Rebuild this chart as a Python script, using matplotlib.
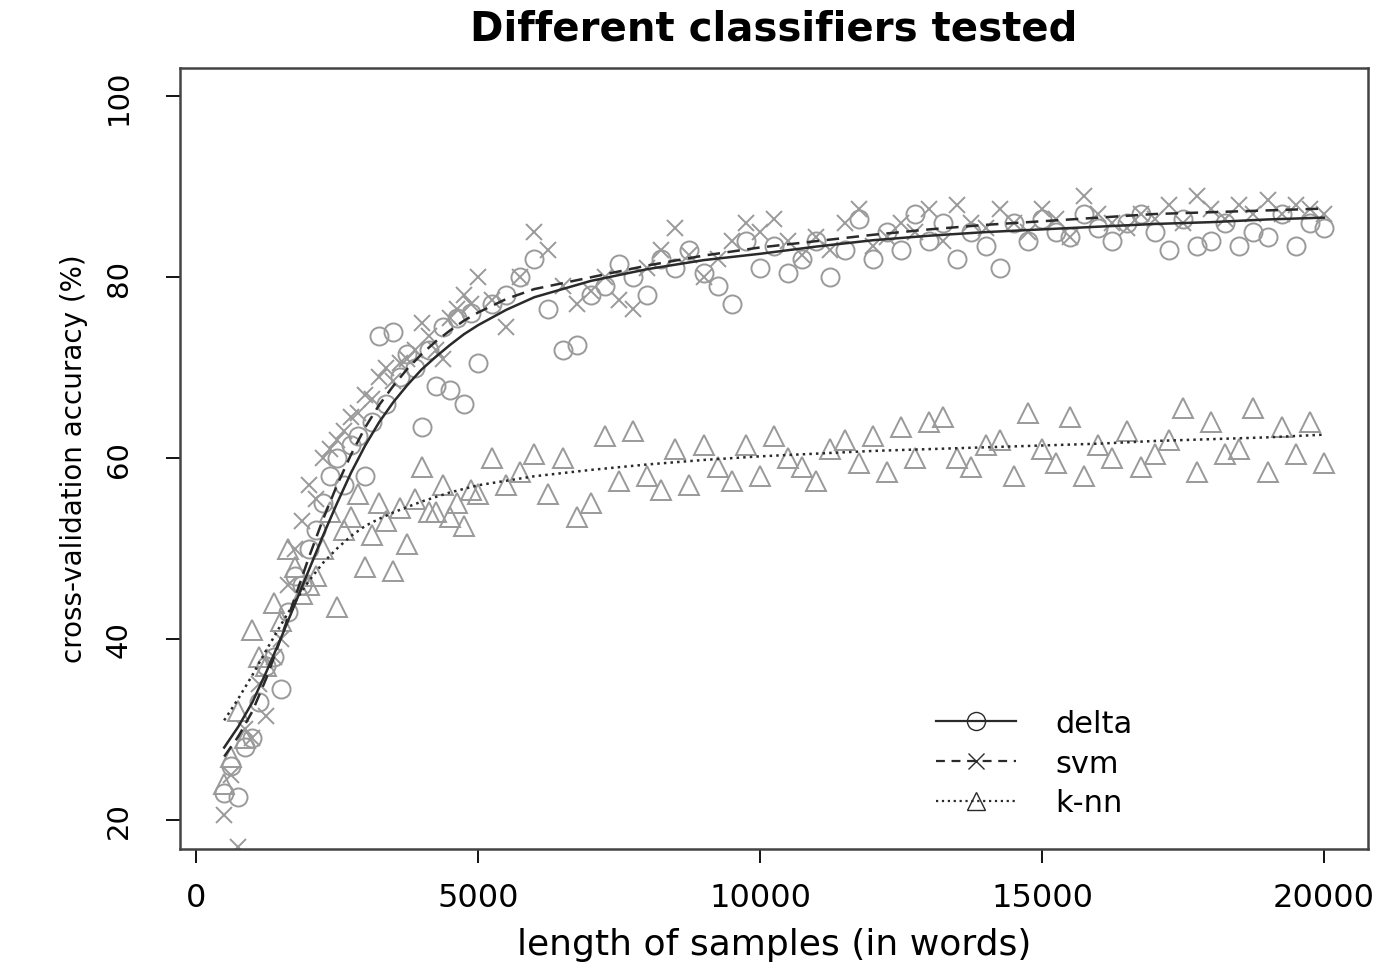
import matplotlib
matplotlib.use('Agg')
import matplotlib.pyplot as plt
from matplotlib.lines import Line2D

plt.rcParams['font.family'] = 'DejaVu Sans'

# sample lengths (in words)
lengths = list(range(500, 20001, 250))
# extra runs in the steep part of the curve
lengths_early = list(range(625, 5000, 250))

delta_acc = [23, 22.5, 29, 37, 34.5, 47, 50, 55, 60, 61.5, 58, 73.5, 74, 71.5, 63.5, 68,
             67.5, 66, 70.5, 77, 78, 80, 82, 76.5, 72, 72.5, 78, 79, 81.5, 80, 78, 82,
             81, 83, 80.5, 79, 77, 84, 81, 83.5, 80.5, 82, 84, 80, 83, 86.5, 82, 85,
             83, 87, 84, 86, 82, 85, 83.5, 81, 86, 84, 86.5, 85, 84.5, 87, 85.5, 84,
             86, 87, 85, 83, 86.5, 83.5, 84, 86, 83.5, 85, 84.5, 87, 83.5, 86, 85.5]
delta_early = [26, 28, 33, 38, 43, 46, 52, 58, 57, 62.5, 64, 66, 69, 70, 72, 74.5, 75.5, 76]

svm_acc = [20.5, 17, 29, 31.5, 40, 50, 57, 60, 62, 64.5, 67, 69, 68.5, 71, 75, 72,
           75.5, 78, 80, 77.5, 74.5, 80, 85, 83, 79, 77, 78.5, 80, 77.5, 76.5, 81, 83,
           85.5, 82.5, 80, 82, 84, 86, 85, 86.5, 84, 82.5, 84.5, 83, 86, 87.5, 83.5, 84.5,
           86, 85, 87.5, 84, 88, 86, 85.5, 87.5, 86, 85, 87.5, 86.5, 84.5, 89, 87, 86,
           85.5, 87, 86.5, 88, 86, 89, 87.5, 86.5, 88, 87, 88.5, 87, 88, 87.5, 87]
svm_early = [25, 30, 35, 38, 46, 53, 55.5, 61, 63, 65, 66.5, 70, 70.5, 72, 73.5, 71, 76.5, 77]

knn_acc = [24, 32, 41, 37, 42, 48, 46, 50, 43.5, 53.5, 48, 55, 47.5, 50.5, 59, 54,
           53.5, 52.5, 56, 60, 57, 58.5, 60.5, 56, 60, 53.5, 55, 62.5, 57.5, 63, 58, 56.5,
           61, 57, 61.5, 59, 57.5, 61.5, 58, 62.5, 60, 59, 57.5, 61, 62, 59.5, 62.5, 58.5,
           63.5, 60, 64, 64.5, 60, 59, 61.5, 62, 58, 65, 61, 59.5, 64.5, 58, 61.5, 60,
           63, 59, 60.5, 62, 65.5, 58.5, 64, 60.5, 61, 65.5, 58.5, 63.5, 60.5, 64, 59.5]
knn_early = [27, 29, 38, 44, 50, 45, 47, 54, 52, 56, 51.5, 53, 54.5, 55.5, 54, 57, 55, 56.5]

# smoothed curves
fit_x = [500, 750, 1000, 1250, 1500, 1750, 2000, 2250, 2500, 2750, 3000, 3250, 3500,
         3750, 4000, 4250, 4500, 4750, 5000, 5500, 6000, 7000, 8000, 9000, 10000,
         11000, 12000, 13000, 14000, 15000, 16000, 17000, 18000, 19000, 20000]
delta_fit = [28, 30.3, 33, 36.4, 40, 43.8, 47.6, 51.4, 55, 58.4, 61.4, 64, 66.2,
             68.1, 69.8, 71.2, 72.5, 73.7, 74.7, 76.4, 77.8, 79.6, 80.9, 81.9, 82.6,
             83.4, 84.1, 84.6, 85, 85.3, 85.6, 85.9, 86.1, 86.4, 86.6]
svm_fit = [27, 29.2, 32, 35.7, 40, 44.5, 49, 53.2, 57, 60.4, 63.4, 65.9, 68,
           69.9, 71.5, 72.9, 74.1, 75.2, 76.1, 77.6, 78.7, 80, 81.3, 82.4, 83.3,
           84, 84.7, 85.3, 85.8, 86.2, 86.6, 87, 87.2, 87.4, 87.6]
knn_fit = [31, 33.4, 36, 38.8, 41.5, 44.1, 46.4, 48.4, 50, 51.4, 52.5, 53.3, 54,
           54.6, 55.2, 55.7, 56.2, 56.6, 57, 57.5, 58, 58.7, 59.3, 59.8, 60.2,
           60.5, 60.8, 61, 61.2, 61.4, 61.6, 61.9, 62.1, 62.3, 62.6]

grey = '#9a9a9a'
dark = '#2a2a2a'

fig = plt.figure(figsize=(13.86, 9.79), dpi=100)
ax = fig.add_axes([0.130, 0.132, 0.857, 0.798])

ax.plot(lengths + lengths_early, delta_acc + delta_early, 'o', ms=13, mfc='none', mec=grey, mew=1.4)
ax.plot(lengths + lengths_early, svm_acc + svm_early, 'x', ms=12, mec=grey, mew=1.4)
ax.plot(lengths + lengths_early, knn_acc + knn_early, '^', ms=14, mfc='none', mec=grey, mew=1.4)

ax.plot(fit_x, delta_fit, '-', color=dark, lw=1.8)
ax.plot(fit_x, svm_fit, '--', color=dark, lw=1.8, dashes=(5, 3))
ax.plot(fit_x, knn_fit, ':', color=dark, lw=1.8)

ax.set_xlim(-280, 20780)
ax.set_ylim(16.8, 103.2)
ax.set_xticks([0, 5000, 10000, 15000, 20000])
ax.set_yticks([20, 40, 60, 80, 100])
ax.tick_params(axis='x', length=10, width=1.3, labelsize=23, pad=14)
ax.tick_params(axis='y', length=10, width=1.3, labelsize=21, pad=24)
for lab in ax.get_yticklabels():
    lab.set_rotation(90)
    lab.set_va('center')
for s in ax.spines.values():
    s.set_linewidth(1.8)
    s.set_color('#444444')

ax.set_title('Different classifiers tested', fontsize=29, fontweight='bold', pad=20)
ax.set_xlabel('length of samples (in words)', fontsize=26, labelpad=10)
ax.set_ylabel('cross-validation accuracy (%)', fontsize=20, labelpad=12)

handles = [
    Line2D([], [], color=dark, ls='-', marker='o', ms=13, mfc='none', mec=dark, lw=1.6),
    Line2D([], [], color=dark, ls='--', marker='x', ms=11, mec=dark, lw=1.6, dashes=(4, 3)),
    Line2D([], [], color=dark, ls=':', marker='^', ms=13, mfc='none', mec=dark, lw=1.6),
]
ax.legend(handles, ['delta', 'svm', 'k-nn'], loc='lower right', bbox_to_anchor=(0.825, 0.005),
          frameon=False, fontsize=22, handlelength=2.6, labelspacing=0.35, handletextpad=1.3)

fig.savefig('out.png', dpi=100)
